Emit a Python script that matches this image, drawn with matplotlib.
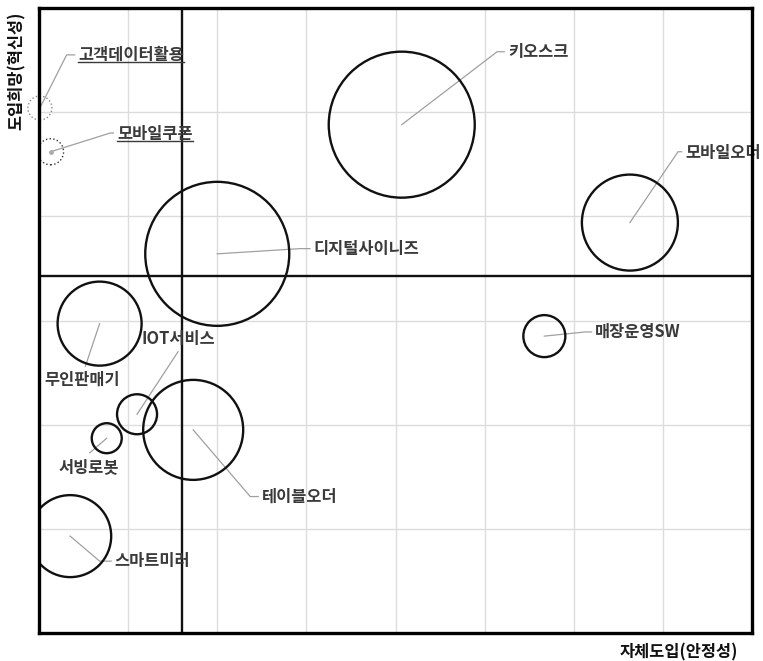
import matplotlib
matplotlib.use("Agg")
import matplotlib.pyplot as plt
from matplotlib.lines import Line2D

plt.rcParams['font.family'] = ['Noto Sans CJK KR', 'DejaVu Sans']

# ---- data ----
names = ['키오스크', '모바일오더', '디지털사이니즈', '매장운영SW', '무인판매기',
         'IOT서비스', '서빙로봇', '테이블오더', '스마트미러']
x_vals = [4.07, 6.63, 2.00, 5.67, 0.68, 1.10, 0.76, 1.73, 0.35]
y_vals = [4.88, 3.94, 3.64, 2.85, 2.97, 2.10, 1.87, 1.95, 0.93]
sizes = [73, 48, 72, 21, 42, 20, 15, 50, 41]

dotted_names = ['고객데이터활용', '모바일쿠폰']
dotted_x = [0.01, 0.13]
dotted_y = [5.04, 4.62]
dotted_sizes = [12, 13]

x_divider = 1.61
y_divider = 3.43

x_label = '자체도입(안정성)'
y_label = '도입희망(혁신성)'

# ---- layout of labels: (elbow x, elbow y, text x, text y, ha) ----
label_layout = {
    '키오스크': (5.14, 5.58, 5.26, 5.58, 'left'),
    '모바일오더': (7.17, 4.62, 7.25, 4.61, 'left'),
    '디지털사이니즈': (2.93, 3.69, 3.08, 3.69, 'left'),
    '매장운영SW': (6.13, 2.89, 6.24, 2.89, 'left'),
    '무인판매기': (0.52, 2.56, 0.48, 2.43, 'center'),
    'IOT서비스': (1.56, 2.70, 1.56, 2.82, 'center'),
    '서빙로봇': (0.57, 1.73, 0.56, 1.59, 'center'),
    '테이블오더': (2.37, 1.31, 2.50, 1.31, 'left'),
    '스마트미러': (0.68, 0.69, 0.85, 0.69, 'left'),
    '고객데이터활용': (0.31, 5.55, 0.44, 5.55, 'left'),
    '모바일쿠폰': (0.80, 4.80, 0.875, 4.79, 'left'),
}
underlined = {'고객데이터활용', '모바일쿠폰'}

FS = 11.8
DPI = 100
fig = plt.figure(figsize=(7.63, 6.61), dpi=DPI)
ax = fig.add_axes([39/763, 28/661, 713/763, 625/661])
ax.set_xlim(0, 8)
ax.set_ylim(0, 6)
ax.set_xticks(range(0, 9))
ax.set_yticks(range(0, 7))
ax.tick_params(length=0, labelbottom=False, labelleft=False)
ax.grid(True, color='#dcdcdc', linewidth=1.0)
ax.set_axisbelow(True)
for sp in ax.spines.values():
    sp.set_linewidth(2.4)
    sp.set_color('black')
    sp.set_zorder(6)

ax.axvline(x_divider, color='#111111', linewidth=1.7, zorder=2)
ax.axhline(y_divider, color='#111111', linewidth=1.7, zorder=2)

def s_of(r):
    return (2 * r * 72 / DPI) ** 2

ax.scatter(x_vals, y_vals, s=[s_of(r) for r in sizes], facecolors='none',
           edgecolors='#111111', linewidths=1.7, zorder=4)
ax.scatter(dotted_x[0], dotted_y[0], s=s_of(dotted_sizes[0]), facecolors='none',
           edgecolors='#888888', linewidths=1.0, linestyle=':', zorder=4, clip_on=False)
ax.scatter(dotted_x[1], dotted_y[1], s=s_of(dotted_sizes[1]), facecolors='none',
           edgecolors='#333333', linewidths=1.0, linestyle=':', zorder=4)
ax.scatter(dotted_x[1], dotted_y[1], s=6, color='#aaaaaa', zorder=4)

all_names = names + dotted_names
all_x = x_vals + dotted_x
all_y = y_vals + dotted_y
texts = {}
for n, cx, cy in zip(all_names, all_x, all_y):
    ex, ey, tx, ty, ha = label_layout[n]
    if ha == 'left':
        ax.plot([cx, ex, tx - 0.04], [cy, ey, ey], color='#a0a0a0', linewidth=0.9, zorder=3)
    else:
        ax.plot([cx, ex], [cy, ey], color='#a0a0a0', linewidth=0.9, zorder=3)
    t = ax.text(tx, ty, n, ha=ha, va='center', fontsize=FS, fontweight='bold',
                color='#3a3a3a', zorder=5)
    texts[n] = t

fig.text(738/763, 1 - 652/661, x_label, ha='right', va='center', fontsize=FS,
         fontweight='bold', color='#111111')
fig.text(17/763, 1 - 12/661, y_label, ha='center', va='top', rotation=90,
         fontsize=FS, fontweight='bold', color='#111111')

fig.canvas.draw()
r = fig.canvas.get_renderer()
inv = fig.transFigure.inverted()
for n in underlined:
    bb = texts[n].get_window_extent(renderer=r)
    (x0, y0) = inv.transform((bb.x0, bb.y0 + 2))
    (x1, _) = inv.transform((bb.x1, bb.y0 + 2))
    fig.add_artist(Line2D([x0, x1], [y0, y0], transform=fig.transFigure,
                          color='#3a3a3a', linewidth=1.0))

fig.savefig('out.png', dpi=DPI)
